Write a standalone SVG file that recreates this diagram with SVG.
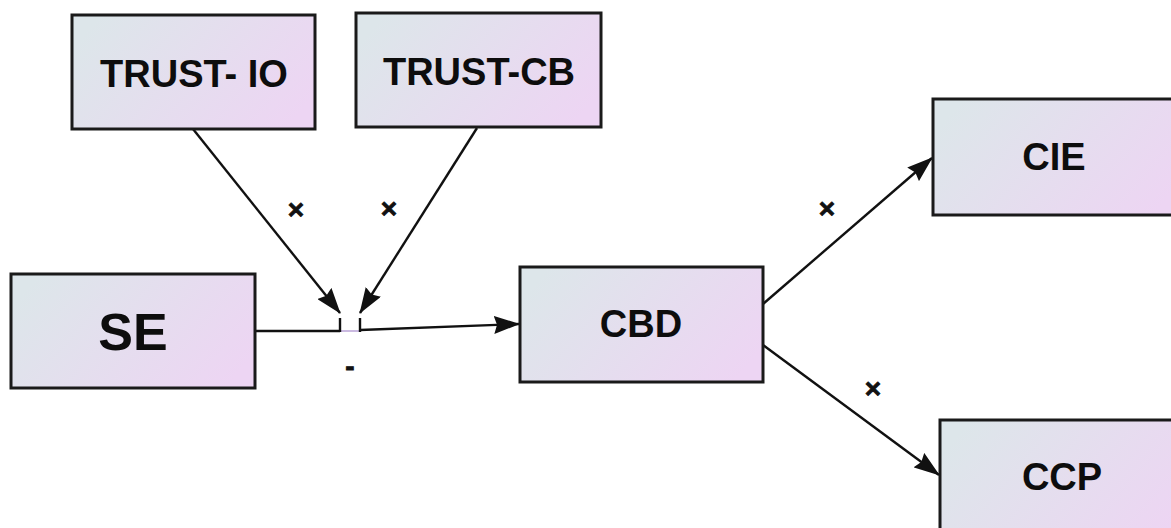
<svg xmlns="http://www.w3.org/2000/svg" width="1171" height="528" viewBox="0 0 1171 528">
  <style>
    .box { fill: url(#g); stroke: #1a1a1a; stroke-width: 3; }
    .lbl { font-family: "Liberation Sans", Arial, sans-serif; font-weight: bold; fill: #0d0d0d; text-anchor: middle; }
    .edge { stroke: #111; stroke-width: 2.4; fill: none; }
    .mark { font-family: "Liberation Sans", Arial, sans-serif; font-weight: bold; fill: #111; text-anchor: middle; font-size: 28px; stroke: #111; stroke-width: 0.8; }
  </style>
  <defs>
    <linearGradient id="g" x1="0" y1="0.3" x2="1" y2="0.7">
      <stop offset="0" stop-color="#dde6ea"/>
      <stop offset="1" stop-color="#edd5f3"/>
    </linearGradient>
    <marker id="arr" viewBox="0 0 26 18" refX="25" refY="9" markerWidth="26" markerHeight="18" markerUnits="userSpaceOnUse" orient="auto">
      <path d="M0,0 L26,9 L0,18 L3,9 Z" fill="#111"/>
    </marker>
  </defs>
  <rect width="1171" height="528" fill="#fff"/>

  <g id="connectors">
    <line class="edge" x1="193" y1="129" x2="340" y2="313" marker-end="url(#arr)"/>
    <line class="edge" x1="477" y1="128" x2="360" y2="313" marker-end="url(#arr)"/>
    <line class="edge" x1="255" y1="331" x2="340" y2="331"/>
    <line x1="340" y1="331" x2="360" y2="331" stroke="#b9a2d6" stroke-width="1.5"/>
    <line class="edge" x1="340" y1="318" x2="340" y2="332"/>
    <line class="edge" x1="360" y1="318" x2="360" y2="332"/>
    <line class="edge" x1="360" y1="330" x2="519" y2="324" marker-end="url(#arr)"/>
    <line class="edge" x1="763" y1="304" x2="932" y2="158" marker-end="url(#arr)"/>
    <line class="edge" x1="763" y1="345" x2="939" y2="475" marker-end="url(#arr)"/>
    <text class="mark" x="296" y="219">×</text>
    <text class="mark" x="389" y="218">×</text>
    <text class="mark" x="827" y="218">×</text>
    <text class="mark" x="873" y="398">×</text>
    <text class="mark" x="350" y="376" font-size="24">-</text>
  </g>

  <g id="trust-io">
    <rect class="box" x="72" y="15" width="243" height="114"/>
    <text class="lbl" x="194" y="87" font-size="38">TRUST- IO</text>
  </g>
  <g id="trust-cb">
    <rect class="box" x="356" y="13" width="245" height="114"/>
    <text class="lbl" x="479" y="85" font-size="38">TRUST-CB</text>
  </g>
  <g id="se">
    <rect class="box" x="11" y="274" width="244" height="114"/>
    <text class="lbl" x="133" y="350" font-size="52">SE</text>
  </g>
  <g id="cbd">
    <rect class="box" x="520" y="267" width="243" height="115"/>
    <text class="lbl" x="641" y="337" font-size="38">CBD</text>
  </g>
  <g id="cie">
    <rect class="box" x="933" y="99" width="250" height="116"/>
    <text class="lbl" x="1054" y="170" font-size="38">CIE</text>
  </g>
  <g id="ccp">
    <rect class="box" x="940" y="420" width="250" height="120"/>
    <text class="lbl" x="1062" y="490" font-size="38">CCP</text>
  </g>
</svg>
